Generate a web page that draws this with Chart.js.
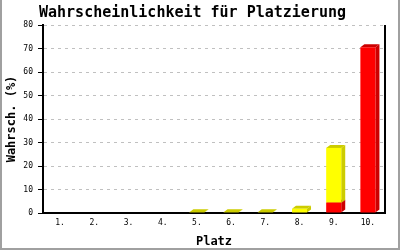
<!DOCTYPE html>
<html>
<head>
<meta charset="utf-8">
<script src="https://cdn.jsdelivr.net/npm/chart.js@4"></script>
<style>
  html, body { margin: 0; padding: 0; background: #fff; }
  #wrap { width: 400px; height: 250px; position: relative; }
</style>
</head>
<body>
<div id="wrap"><canvas id="chart" width="400" height="250"></canvas></div>
<script>
const places = ['1.', '2.', '3.', '4.', '5.', '6.', '7.', '8.', '9.', '10.'];
const redValues = [0, 0, 0, 0, 0, 0, 0, 0, 4.4, 70.5];
const yellowValues = [0, 0, 0, 0, 0.3, 0.3, 0.3, 1.8, 23.3, 0];
const yTicks = [0, 10, 20, 30, 40, 50, 60, 70, 80];

const MONO = '"DejaVu Sans Mono", "Liberation Mono", monospace';

// draws the darker side and top faces behind the bar fronts
const bars3d = {
    id: 'bars3d',
    beforeDatasetsDraw(chart) {
        const ctx = chart.ctx;
        const dx = 4, dy = 3;
        chart.data.datasets.forEach((ds, di) => {
            const meta = chart.getDatasetMeta(di);
            meta.data.forEach((bar, i) => {
                if (!ds.data[i]) return;
                const left = bar.x - bar.width / 2;
                const right = bar.x + bar.width / 2;
                const top = bar.y;
                const base = bar.base;
                ctx.save();
                ctx.fillStyle = ds.sideColor;
                ctx.beginPath();
                ctx.moveTo(right, base);
                ctx.lineTo(right + dx, base - dy);
                ctx.lineTo(right + dx, top - dy);
                ctx.lineTo(right, top);
                ctx.closePath();
                ctx.fill();
                ctx.beginPath();
                ctx.moveTo(left, top);
                ctx.lineTo(left + dx, top - dy);
                ctx.lineTo(right + dx, top - dy);
                ctx.lineTo(right, top);
                ctx.closePath();
                ctx.fill();
                ctx.restore();
            });
        });
    },
    afterDraw(chart) {
        const ctx = chart.ctx;
        const area = chart.chartArea;
        ctx.save();
        // right frame of the plot
        ctx.strokeStyle = '#000';
        ctx.lineWidth = 2;
        ctx.beginPath();
        ctx.moveTo(area.right, area.top);
        ctx.lineTo(area.right, area.bottom);
        ctx.stroke();
        // grey picture border
        ctx.fillStyle = '#a0a0a0';
        ctx.fillRect(0, 0, 2, 250);
        ctx.fillRect(398, 0, 2, 250);
        ctx.fillRect(0, 248, 400, 2);
        ctx.restore();
    }
};

new Chart(document.getElementById('chart'), {
    type: 'bar',
    data: {
        labels: places,
        datasets: [{
            label: 'rot',
            data: redValues,
            backgroundColor: '#ff0000',
            sideColor: '#cc0000',
            barPercentage: 0.44,
            categoryPercentage: 1
        }, {
            label: 'gelb',
            data: yellowValues,
            backgroundColor: '#ffff00',
            sideColor: '#cccc00',
            barPercentage: 0.44,
            categoryPercentage: 1
        }]
    },
    options: {
        responsive: false,
        animation: false,
        layout: { padding: { left: 0, right: 15, top: 0, bottom: 0 } },
        plugins: {
            legend: { display: false },
            tooltip: { enabled: false },
            title: {
                display: true,
                text: 'Wahrscheinlichkeit für Platzierung',
                color: '#000',
                font: { family: MONO, size: 15, weight: 'bold' },
                padding: { top: 4, bottom: 3 }
            }
        },
        scales: {
            x: {
                stacked: true,
                grid: { display: false, drawTicks: false },
                border: { display: true, color: '#000', width: 2 },
                ticks: {
                    color: '#000',
                    font: { family: MONO, size: 8 },
                    padding: 5,
                    maxRotation: 0
                },
                title: {
                    display: true,
                    text: 'Platz',
                    color: '#000',
                    font: { family: MONO, size: 12, weight: 'bold' },
                    padding: { top: 0, bottom: 1 }
                },
                afterFit(scale) { scale.height = 37; }
            },
            y: {
                stacked: true,
                min: 0,
                max: 80,
                afterBuildTicks(scale) { scale.ticks = yTicks.map(v => ({ value: v })); },
                grid: {
                    color: '#c0c0c0',
                    tickColor: '#000',
                    tickLength: 5,
                    tickBorderDash: [],
                    tickWidth: 1
                },
                border: { display: true, color: '#000', width: 2, dash: [3, 4] },
                ticks: {
                    color: '#000',
                    font: { family: MONO, size: 8 },
                    padding: 5
                },
                title: {
                    display: true,
                    text: 'Wahrsch. (%)',
                    color: '#000',
                    font: { family: MONO, size: 12, weight: 'bold' },
                    padding: { top: 5, bottom: 0 }
                },
                afterFit(scale) { scale.width = 43; }
            }
        }
    },
    plugins: [bars3d]
});
</script>
</body>
</html>
